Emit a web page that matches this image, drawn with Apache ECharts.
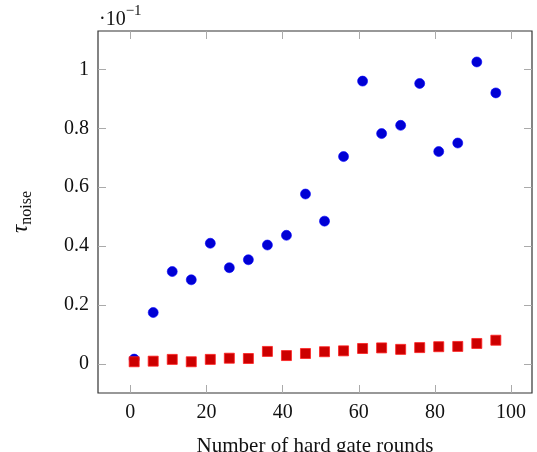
<!DOCTYPE html>
<html>
<head>
<meta charset="utf-8">
<script src="https://cdn.jsdelivr.net/npm/echarts@6/dist/echarts.min.js"></script>
<style>html,body{margin:0;padding:0;background:#fff}#c{width:537px;height:452px}</style>
</head>
<body>
<div id="c"></div>
<script>
var rounds = [1,6,11,16,21,26,31,36,41,46,51,56,61,66,71,76,81,86,91,96];
var blueVals = [0.017,0.175,0.314,0.286,0.41,0.327,0.354,0.404,0.437,0.577,0.485,0.704,0.96,0.782,0.81,0.952,0.721,0.750,1.025,0.92];
var redVals = [0.008,0.010,0.016,0.008,0.016,0.020,0.019,0.043,0.029,0.036,0.042,0.045,0.053,0.055,0.050,0.056,0.059,0.060,0.070,0.081];
var xTicks = [0,20,40,60,80,100];
var yTicks = [0,0.2,0.4,0.6,0.8,1];

var FONT = 'Liberation Serif';
function pairs(xs, ys){ return xs.map(function(x,i){ return [x, ys[i]]; }); }

var tickStyle = {inside:true, length:8, lineStyle:{color:'#aaaaaa', width:1}};
var chart = echarts.init(document.getElementById('c'), null, {renderer:'canvas'});
chart.setOption({
  animation:false,
  grid:{left:98, right:5, top:31, bottom:59, outerBoundsMode:'none', containLabel:false, show:true, borderColor:'#333333', borderWidth:1.2, backgroundColor:'transparent'},
  xAxis:[{
    type:'value', min:-8.5, max:105.5, position:'bottom',
    name:'Number of hard gate rounds', nameLocation:'middle', nameGap:43,
    nameTextStyle:{fontFamily:FONT, fontSize:21, color:'#111'},
    axisLine:{show:false, onZero:false}, splitLine:{show:false},
    axisTick:Object.assign({customValues:xTicks}, tickStyle),
    axisLabel:{customValues:xTicks, fontFamily:FONT, fontSize:20, color:'#111', margin:10}
  },{
    type:'value', min:-8.5, max:105.5, position:'top',
    axisLine:{show:false, onZero:false}, splitLine:{show:false},
    axisTick:Object.assign({customValues:xTicks}, tickStyle),
    axisLabel:{show:false}
  }],
  yAxis:[{
    type:'value', min:-0.098, max:1.13, position:'left',
    axisLine:{show:false, onZero:false}, splitLine:{show:false},
    axisTick:Object.assign({customValues:yTicks}, tickStyle),
    axisLabel:{customValues:yTicks, fontFamily:FONT, fontSize:20, color:'#111', margin:9,
      formatter:function(v){ return String(Math.round(v*10)/10); }}
  },{
    type:'value', min:-0.098, max:1.13, position:'right',
    axisLine:{show:false, onZero:false}, splitLine:{show:false},
    axisTick:Object.assign({customValues:yTicks}, tickStyle),
    axisLabel:{show:false}
  }],
  graphic:[
    {type:'text', left:99, top:4, style:{rich:{a:{fontFamily:FONT,fontSize:20,fill:'#111',lineHeight:26,verticalAlign:'bottom'}, e:{fontFamily:FONT,fontSize:15,fill:'#111',lineHeight:26,verticalAlign:'top'}}, text:'{a|·10}{e|−1}'}},
    {type:'text', rotation:Math.PI/2, x:22, y:212, style:{
      text:'{t|τ}{s|noise}', align:'center', verticalAlign:'middle',
      rich:{t:{fontFamily:FONT, fontSize:23, fontStyle:'italic', fill:'#111', lineHeight:26, verticalAlign:'top'},
            s:{fontFamily:FONT, fontSize:16, fill:'#111', lineHeight:18, verticalAlign:'bottom'}}}}
  ],
  series:[{
    type:'scatter', data:pairs(rounds, blueVals), symbol:'circle', symbolSize:10,
    itemStyle:{color:'#0000d4', borderColor:'#0000ff', borderWidth:0.6, opacity:1}
  },{
    type:'scatter', data:pairs(rounds, redVals), symbol:'rect', symbolSize:10,
    itemStyle:{color:'#cc0000', borderColor:'#ff2020', borderWidth:0.8, opacity:1}
  }]
});
</script>
</body>
</html>
